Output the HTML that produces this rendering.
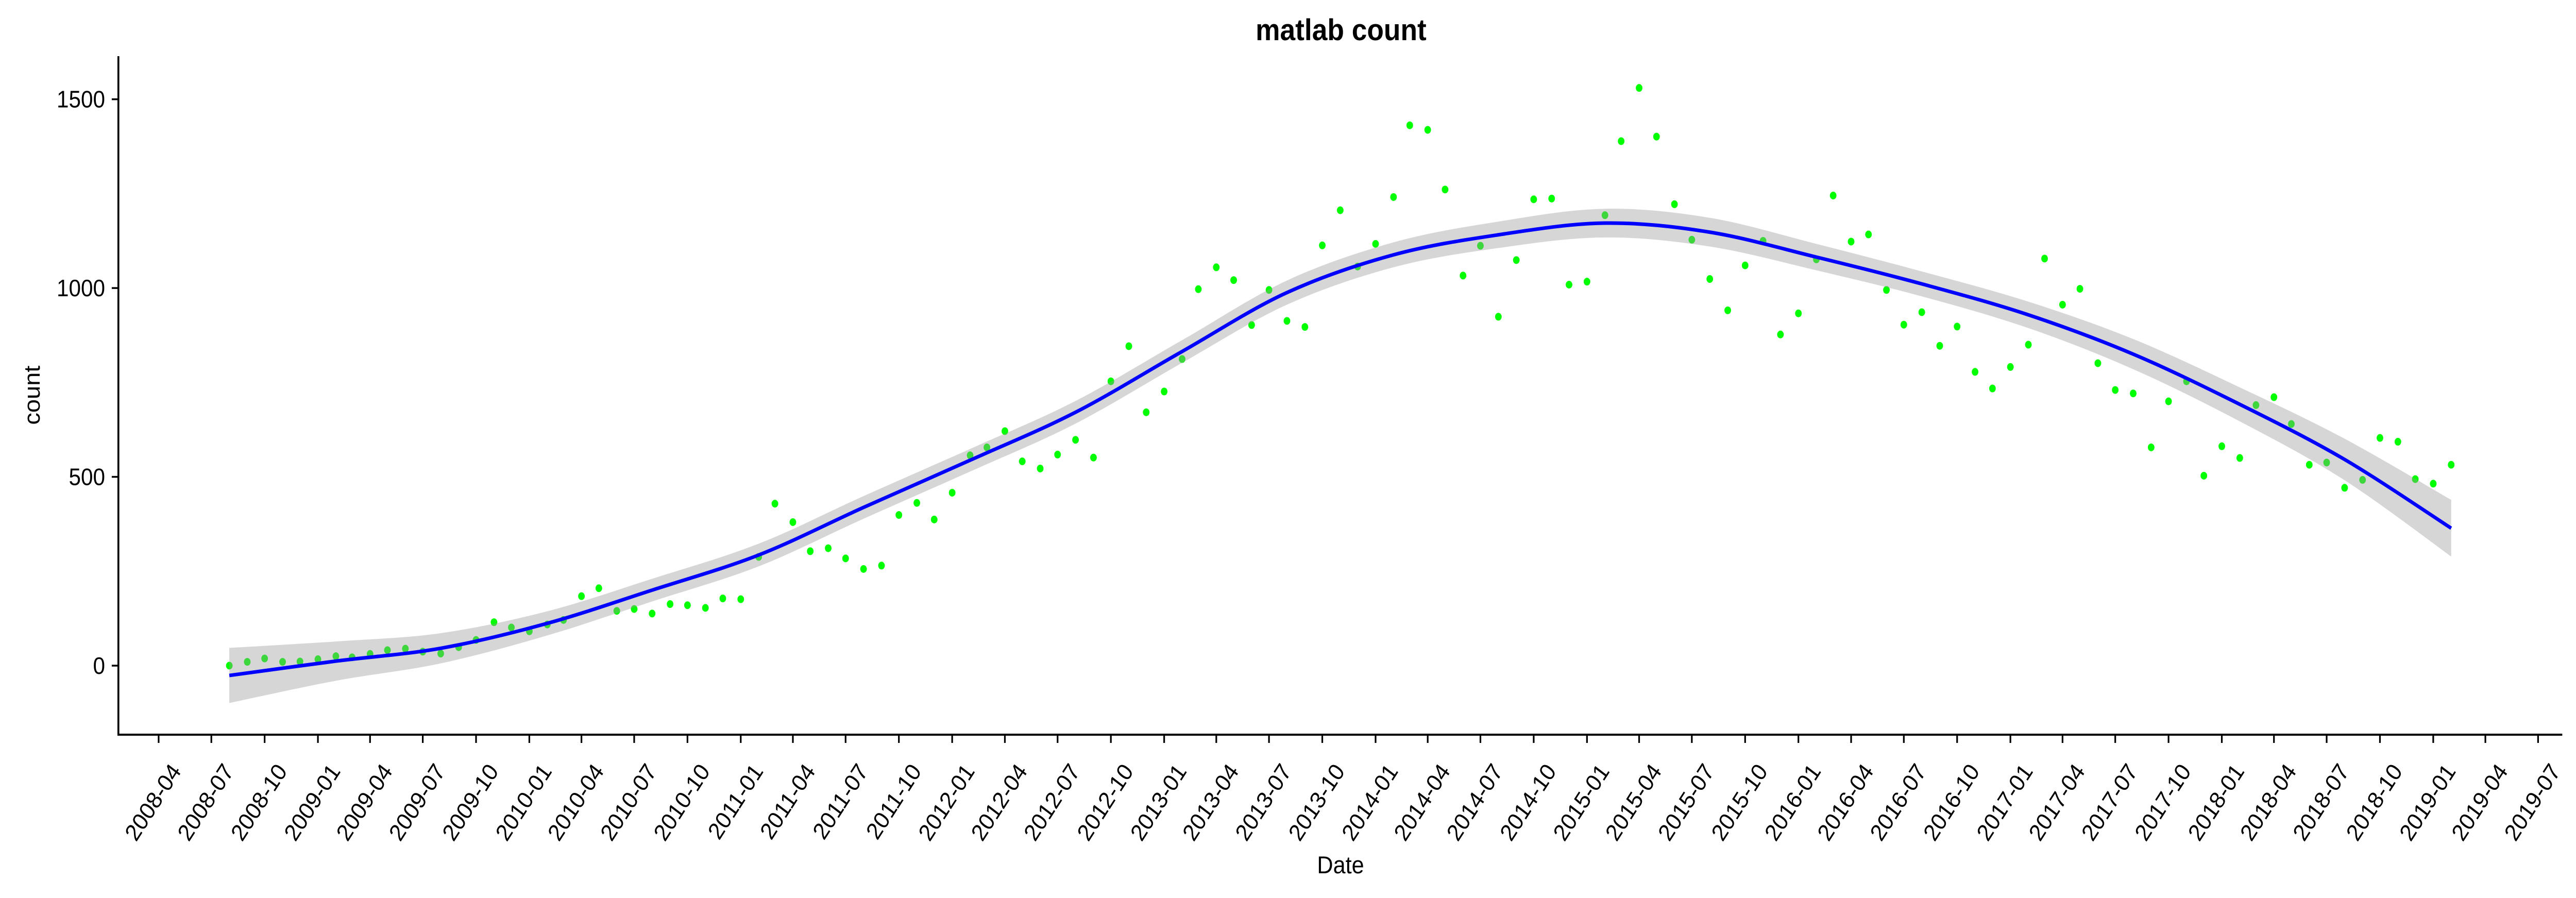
<!DOCTYPE html>
<html><head><meta charset="utf-8"><style>
html,body{margin:0;padding:0;background:#fff;width:100%;height:100%;overflow:hidden}
svg{display:block;width:100%;height:100%}
text{font-family:"Liberation Sans",sans-serif;fill:#000}
</style></head><body>
<svg id="chart" viewBox="0 0 5440 1743" preserveAspectRatio="none" xmlns="http://www.w3.org/2000/svg">
<rect width="5440" height="1743" fill="#fff"/>
<text x="2832" y="78" font-size="58" font-weight="bold" text-anchor="middle">matlab count</text>
<g id="points"></g>
<g id="band"></g>
<g id="fit"></g>
<g id="axes"></g>
<text x="2831" y="1695" font-size="47" text-anchor="middle">Date</text>
<text transform="translate(84,767) rotate(-90)" font-size="47" text-anchor="middle">count</text>
</svg>
<script>
const firstMonth = "2008-08";
const counts = [0,10,19,10,11,17,25,22,31,41,45,37,32,49,68,115,101,91,109,121,184,205,145,150,138,163,160,153,178,176,
288,429,380,303,311,284,256,265,399,431,387,458,557,578,621,541,522,559,598,551,753,846,671,726,812,997,1055,1021,902,995,
913,897,1113,1206,1057,1117,1241,1431,1419,1261,1033,1112,924,1074,1235,1237,1009,1017,1193,1389,1530,1401,1222,1128,1024,941,1060,1125,877,933,
1076,1245,1123,1142,995,903,936,847,898,778,734,791,850,1078,956,998,801,730,721,578,700,753,503,581,550,690,711,640,532,538,
471,492,603,593,494,482,532];
const fitMonthIdx = [0,6,12,18,24,30,36,42,48,54,60,66,72,78,84,90,96,102,108,114,120,126];
const fitValues = [-26,12,46,112,200,293,419,544,671,832,988,1088,1141,1172,1148,1082,1011,929,825,692,546,364];
const fitHalfWidth = [73,52,40,32,30,30,30,30,30,30,32,33,35,38,38,35,33,35,40,45,55,75];
const yTicks = [0,500,1000,1500];
const xTickLabels = ["2008-04","2008-07","2008-10","2009-01","2009-04","2009-07","2009-10","2010-01","2010-04","2010-07","2010-10",
"2011-01","2011-04","2011-07","2011-10","2012-01","2012-04","2012-07","2012-10","2013-01","2013-04","2013-07","2013-10",
"2014-01","2014-04","2014-07","2014-10","2015-01","2015-04","2015-07","2015-10","2016-01","2016-04","2016-07","2016-10",
"2017-01","2017-04","2017-07","2017-10","2018-01","2018-04","2018-07","2018-10","2019-01","2019-04","2019-07"];

const NS="http://www.w3.org/2000/svg";
const ORIGIN=Date.UTC(2008,3,1);
function monthDate(idx){const [y,m]=firstMonth.split("-").map(Number);return Date.UTC(y,m-1+idx,1);}
function strDate(s){const [y,m]=s.split("-").map(Number);return Date.UTC(y,m-1,1);}
function xScale(t){return 335+(t-ORIGIN)/86400000*1.2232;}
function yScale(v){return 1292-v*0.7329;}
function mk(tag,attrs,parent){const e=document.createElementNS(NS,tag);for(const k in attrs)e.setAttribute(k,attrs[k]);parent.appendChild(e);return e;}

const gp=document.getElementById("points");
counts.forEach((c,i)=>{
  const e=mk("ellipse",{cx:xScale(monthDate(i)),cy:yScale(c),rx:7,ry:7.5,fill:"#00ff00"},gp);
  
  
});

function crPath(pts){
  let d="M"+pts[0][0]+","+pts[0][1];
  for(let i=0;i<pts.length-1;i++){
    const p0=pts[Math.max(0,i-1)],p1=pts[i],p2=pts[i+1],p3=pts[Math.min(pts.length-1,i+2)];
    const c1=[p1[0]+(p2[0]-p0[0])/6,p1[1]+(p2[1]-p0[1])/6];
    const c2=[p2[0]-(p3[0]-p1[0])/6,p2[1]-(p3[1]-p1[1])/6];
    d+=" C"+c1[0]+","+c1[1]+" "+c2[0]+","+c2[1]+" "+p2[0]+","+p2[1];
  }
  return d;
}
const upper=fitMonthIdx.map((m,i)=>[xScale(monthDate(m)),yScale(fitValues[i]+fitHalfWidth[i])]);
const lower=fitMonthIdx.map((m,i)=>[xScale(monthDate(m)),yScale(fitValues[i]-fitHalfWidth[i])]);
const mid=fitMonthIdx.map((m,i)=>[xScale(monthDate(m)),yScale(fitValues[i])]);
const lowerRev=lower.slice().reverse();
const bandD=crPath(upper)+" L"+lowerRev[0][0]+","+lowerRev[0][1]+crPath(lowerRev).replace(/^M[^C]*/," ")+" Z";
const band=mk("path",{d:bandD,fill:"rgba(153,153,153,0.4)",stroke:"none"},document.getElementById("band"));


const fl=mk("path",{d:crPath(mid),fill:"none",stroke:"#0000ff","stroke-width":7},document.getElementById("fit"));



const ga=document.getElementById("axes");
const xl=mk("line",{x1:250,y1:1426,x2:5411,y2:1426,stroke:"#000","stroke-width":4},ga);


const yl=mk("line",{x1:250,y1:109,x2:250,y2:1428,stroke:"#000","stroke-width":4},ga);


yTicks.forEach(v=>{
  const y=yScale(v);
  const t=mk("line",{x1:236,y1:y,x2:250,y2:y,stroke:"#000","stroke-width":3.5},ga);
  
  
  const l=mk("text",{x:222,y:y+16,"font-size":46,"text-anchor":"end"},ga);
  l.textContent=v;
  
  
});
xTickLabels.forEach(s=>{
  const x=xScale(strDate(s));
  const t=mk("line",{x1:x,y1:1426,x2:x,y2:1442,stroke:"#000","stroke-width":3.5},ga);
  
  
  const l=mk("text",{transform:"translate("+(x+22)+",1478) rotate(-55)","font-size":46,"text-anchor":"end",dy:"0.72em"},ga);
  l.textContent=s;
  
  
});
</script>
</body></html>
